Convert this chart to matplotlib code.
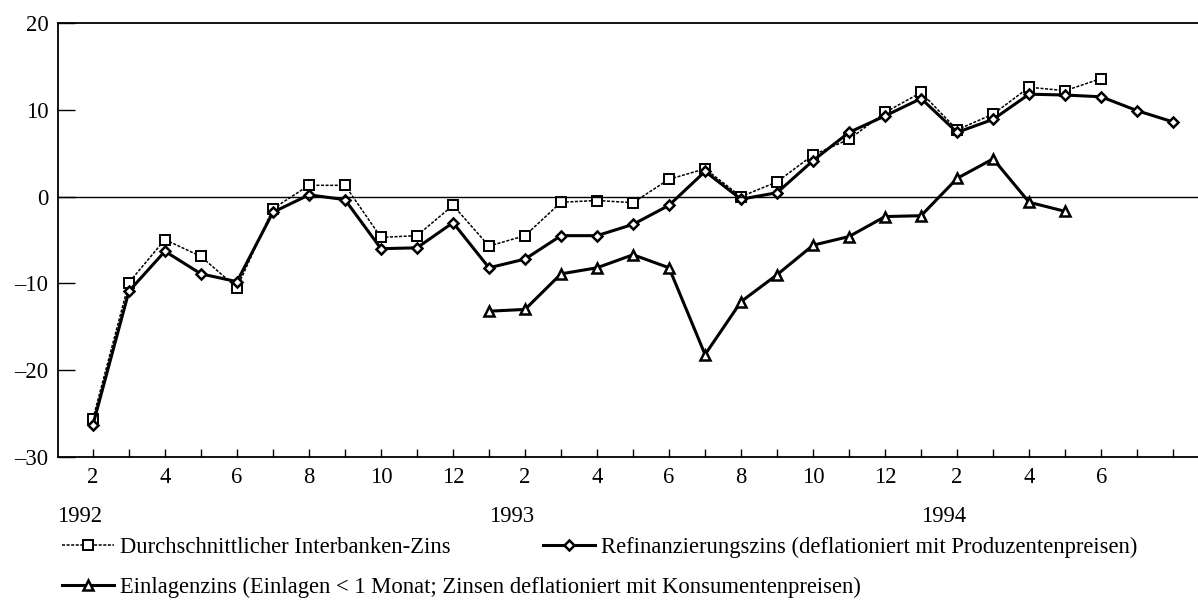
import matplotlib
matplotlib.use("Agg")
import matplotlib.pyplot as plt
from matplotlib.lines import Line2D
from matplotlib.transforms import blended_transform_factory

plt.rcParams['font.family'] = ['Liberation Serif', 'DejaVu Serif']

# months since Feb 1992 (0 = Feb 1992, 30 = Aug 1994)
month_labels = ["2", "", "4", "", "6", "", "8", "", "10", "", "12",
                "", "2", "", "4", "", "6", "", "8", "", "10", "", "12",
                "", "2", "", "4", "", "6", "", ""]
year_labels = ["1992", "1993", "1994"]
year_pos = [0, 12, 24]

y_ticks = [-30, -20, -10, 0, 10, 20]
y_tick_labels = ["\u201330", "\u201320", "\u201310", "0", "10", "20"]

# Durchschnittlicher Interbanken-Zins, Feb 1992 - Jun 1994
interbank = [-25.6, -9.9, -4.95, -6.9, -10.5, -1.4, 1.3, 1.3, -4.7, -4.5,
             -1.0, -5.7, -4.5, -0.65, -0.45, -0.7, 2.0, 3.2, 0.0, 1.7,
             4.8, 6.6, 9.7, 12.0, 7.7, 9.5, 12.6, 12.2, 13.6]
# Refinanzierungszins, Feb 1992 - Aug 1994
refinanz = [-26.3, -10.9, -6.3, -8.9, -9.8, -1.8, 0.2, -0.35, -6.0, -5.9,
            -3.0, -8.2, -7.2, -4.5, -4.5, -3.2, -1.0, 2.9, -0.3, 0.45,
            4.15, 7.4, 9.3, 11.3, 7.4, 8.9, 11.8, 11.7, 11.5, 9.9, 8.6]
# Einlagenzins, Jan 1993 - May 1994
einlagen = [-13.2, -13.0, -8.9, -8.2, -6.7, -8.2, -18.2, -12.1, -9.0, -5.6,
            -4.6, -2.3, -2.2, 2.1, 4.35, -0.65, -1.7]

x_ib = list(range(0, len(interbank)))
x_rf = list(range(0, len(refinanz)))
x_el = list(range(11, 11 + len(einlagen)))

W, H = 1198, 601
fs = 16.3
fig = plt.figure(figsize=(W / 100, H / 100), dpi=100)
ax = fig.add_axes([58 / W, 1 - 457 / H, 1 - 58 / W, (457 - 23) / H])

style_ib = dict(color='k', lw=1.1, ls=(0, (2, 1)), marker='s', ms=6.5,
                mfc='white', mec='k', mew=1.4)
style_rf = dict(color='k', lw=2.2, ls='-', marker='D', ms=5,
                mfc='white', mec='k', mew=1.8)
style_el = dict(color='k', lw=2.2, ls='-', marker='^', ms=6.5,
                mfc='white', mec='k', mew=1.8)

ax.plot(x_el, einlagen, **style_el)
ax.plot(x_ib, interbank, **style_ib)
ax.plot(x_rf, refinanz, **style_rf)

ax.axhline(0, color='k', lw=1)
ax.set_xlim(-0.97, 30.69)
ax.set_ylim(-30, 20)

ax.spines['right'].set_visible(False)
for s in ['top', 'left', 'bottom']:
    ax.spines[s].set_linewidth(1.3)

ax.set_yticks(y_ticks)
ax.set_yticklabels(y_tick_labels)
ax.set_xticks(range(len(month_labels)))
ax.set_xticklabels(month_labels)
ax.tick_params(axis='y', direction='in', length=12, width=1, pad=7, labelsize=fs)
ax.tick_params(axis='x', direction='in', length=6, width=1, pad=7, labelsize=fs)

trans = blended_transform_factory(ax.transData, fig.transFigure)
for pos, lab in zip(year_pos, year_labels):
    ax.text(pos + 0.25, 1 - 516 / H, lab, transform=trans, ha='right',
            va='center', fontsize=fs)

h_ib = Line2D([], [], **style_ib)
h_rf = Line2D([], [], **style_rf)
h_el = Line2D([], [], **style_el)

leg_opts = dict(frameon=False, fontsize=fs, handlelength=2.3, handletextpad=0.25,
                borderpad=0, borderaxespad=0, labelspacing=0.8)
fig.legend([h_ib, h_el],
           ["Durchschnittlicher Interbanken-Zins",
            "Einlagenzins (Einlagen < 1 Monat; Zinsen deflationiert mit Konsumentenpreisen)"],
           loc='center left', bbox_to_anchor=(62 / W, 1 - 567.5 / H), **leg_opts)
fig.legend([h_rf],
           ["Refinanzierungszins (deflationiert mit Produzentenpreisen)"],
           loc='center left', bbox_to_anchor=(543 / W, 1 - 547 / H), **leg_opts)

fig.savefig("out.png", dpi=100)
